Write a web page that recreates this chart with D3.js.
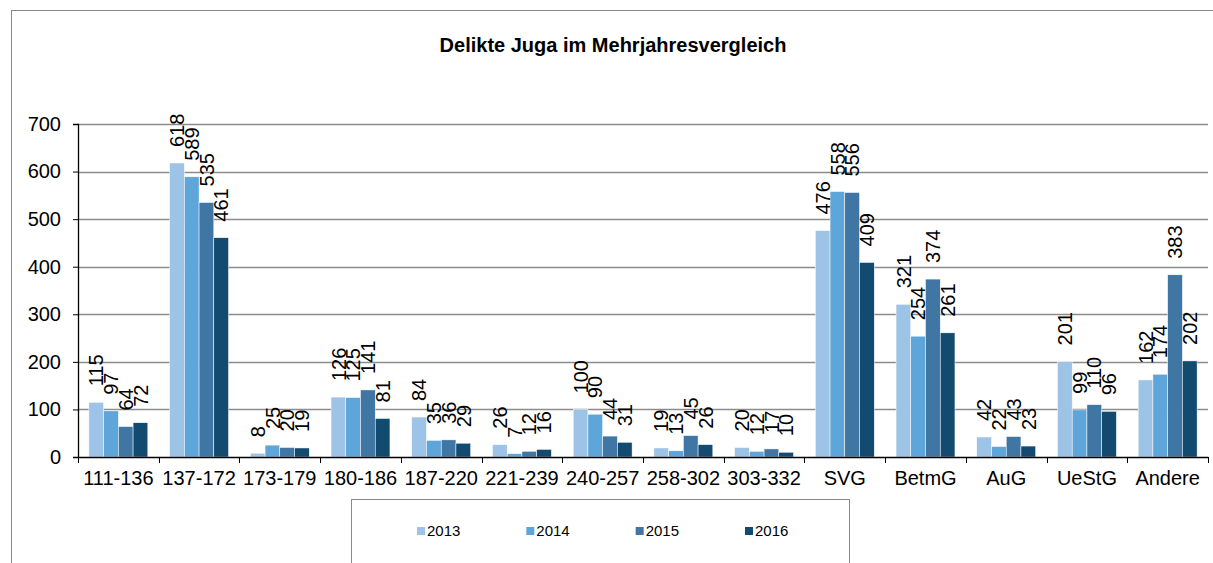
<!DOCTYPE html>
<html lang="de">
<head>
<meta charset="UTF-8">
<title>Delikte Juga im Mehrjahresvergleich</title>
<script src="https://d3js.org/d3.v7.min.js"></script>
<style>
  body { margin: 0; background: #fff; }
  svg { display: block; font-family: "Liberation Sans", Arial, sans-serif; }
</style>
</head>
<body>
<svg width="1213" height="563"></svg>
<script>
// chart data
var categories = ["111-136", "137-172", "173-179", "180-186", "187-220", "221-239", "240-257",
                  "258-302", "303-332", "SVG", "BetmG", "AuG", "UeStG", "Andere"];
var years = ["2013", "2014", "2015", "2016"];
var values2013 = [115, 618, 8, 126, 84, 26, 100, 19, 20, 476, 321, 42, 201, 162];
var values2014 = [97, 589, 25, 125, 35, 7, 90, 13, 12, 558, 254, 22, 99, 174];
var values2015 = [64, 535, 20, 141, 36, 12, 44, 45, 17, 556, 374, 43, 110, 383];
var values2016 = [72, 461, 19, 81, 29, 16, 31, 26, 10, 409, 261, 23, 96, 202];
var yTicks = [0, 100, 200, 300, 400, 500, 600, 700];
var colors = ["#9dc3e6", "#5ea5da", "#3f76a4", "#134b70"];

var series = [values2013, values2014, values2015, values2016];

var svg = d3.select("svg");

// outer chart frame
svg.append("rect")
    .attr("x", 11.5).attr("y", 10.5)
    .attr("width", 1230).attr("height", 600)
    .attr("fill", "none").attr("stroke", "#888").attr("stroke-width", 1);

// title
svg.append("text")
    .attr("x", 613).attr("y", 52)
    .attr("text-anchor", "middle")
    .attr("font-weight", "bold")
    .attr("font-size", "20px")
    .text("Delikte Juga im Mehrjahresvergleich");

var margin = {left: 78, top: 124, right: 1208, bottom: 457};

var x = d3.scaleBand()
    .domain(categories)
    .range([margin.left, margin.right])
    .paddingInner(0.27)
    .paddingOuter(0.135);

var xs = d3.scaleBand()
    .domain(years)
    .range([0, x.bandwidth()]);

var y = d3.scaleLinear()
    .domain([0, 700])
    .range([margin.bottom, margin.top]);

// gridlines
svg.append("g")
    .selectAll("line")
    .data(yTicks.slice(1))
    .enter().append("line")
    .attr("x1", margin.left).attr("x2", margin.right)
    .attr("y1", function(d) { return Math.round(y(d)) + 0.5; })
    .attr("y2", function(d) { return Math.round(y(d)) + 0.5; })
    .attr("stroke", "#8c8c8c").attr("stroke-width", 1.3);

// bars
var groups = svg.append("g")
    .selectAll("g")
    .data(categories)
    .enter().append("g")
    .attr("transform", function(d) { return "translate(" + x(d) + ",0)"; });

groups.selectAll("rect")
    .data(function(d, i) { return years.map(function(yr, j) { return {year: yr, value: series[j][i], k: j}; }); })
    .enter().append("rect")
    .attr("x", function(d) { return xs(d.year); })
    .attr("width", xs.bandwidth())
    .attr("y", function(d) { return y(d.value); })
    .attr("height", function(d) { return y(0) - y(d.value); })
    .attr("fill", function(d) { return colors[d.k]; })
    .attr("stroke", "#fff").attr("stroke-width", 0.5);

// data labels, rotated
groups.selectAll("text")
    .data(function(d, i) { return years.map(function(yr, j) { return {year: yr, value: series[j][i]}; }); })
    .enter().append("text")
    .attr("transform", function(d) {
        return "translate(" + (xs(d.year) + xs.bandwidth() / 2) + "," + (y(d.value) - 16) + ") rotate(-90)";
    })
    .attr("dy", "0.36em")
    .attr("font-size", "20px")
    .text(function(d) { return d.value; });

// x axis
var xAxis = svg.append("g")
    .attr("transform", "translate(0," + margin.bottom + ")")
    .call(d3.axisBottom(x).tickSize(0).tickPadding(14));
xAxis.select(".domain").attr("stroke", "#000").attr("stroke-width", 1.3);
xAxis.selectAll("text").attr("font-size", "20px").attr("font-family", "Liberation Sans, Arial, sans-serif");

// ticks between categories
var step = x.step();
svg.append("g")
    .selectAll("line")
    .data(d3.range(categories.length + 1))
    .enter().append("line")
    .attr("x1", function(i) { return Math.round(margin.left + i * step) + 0.5; })
    .attr("x2", function(i) { return Math.round(margin.left + i * step) + 0.5; })
    .attr("y1", margin.bottom).attr("y2", margin.bottom + 6)
    .attr("stroke", "#000");

// y axis
var yAxis = svg.append("g")
    .attr("transform", "translate(" + margin.left + ",0)")
    .call(d3.axisLeft(y).tickValues(yTicks).tickSize(5).tickPadding(12));
yAxis.select(".domain").attr("stroke", "#000").attr("stroke-width", 1.3);
yAxis.selectAll("text").attr("font-size", "20px").attr("font-family", "Liberation Sans, Arial, sans-serif");

// legend
var legend = svg.append("g");
legend.append("rect")
    .attr("x", 351.5).attr("y", 499.5)
    .attr("width", 498).attr("height", 80)
    .attr("fill", "#fff").attr("stroke", "#888");

var lx = d3.scalePoint().domain(years).range([417, 745]);
var items = legend.selectAll("g.item")
    .data(years)
    .enter().append("g")
    .attr("class", "item")
    .attr("transform", function(d) { return "translate(" + lx(d) + ",531)"; });
items.append("rect")
    .attr("x", 0).attr("y", -4)
    .attr("width", 8).attr("height", 8)
    .attr("fill", function(d, i) { return colors[i]; });
items.append("text")
    .attr("x", 10).attr("dy", "0.36em")
    .attr("font-size", "15px")
    .text(function(d) { return d; });
</script>
</body>
</html>
